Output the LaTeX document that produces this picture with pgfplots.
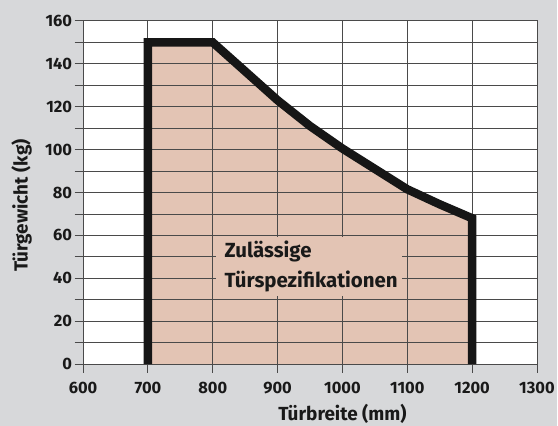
\documentclass[border=0pt]{standalone}
\usepackage{pgfplots}
\pgfplotsset{compat=1.18}
\usepackage{fontspec}
\setmainfont{Fira Sans}[Numbers={Proportional,Lining}]
\definecolor{bg}{HTML}{D7D8DA}
\definecolor{area}{HTML}{E3C4B4}
\definecolor{gridc}{HTML}{4A4A4A}
\definecolor{linec}{HTML}{161616}
\pgfplotsset{
  base/.style={
    at={(0pt,0pt)}, anchor=south west,
    scale only axis, width=455pt, height=344pt,
    xmin=600, xmax=1300, ymin=0, ymax=160,
  }
}
\begin{document}
\begin{tikzpicture}
\fill[bg] (-83.3pt,-62pt) rectangle (474.7pt,365pt);
\fill[white] (0pt,0pt) rectangle (455pt,344pt);
\begin{axis}[base, hide axis]
\addplot[fill=area, draw=none] coordinates {
(700,0) (700,150) (800,150) (850,136.5) (900,123) (950,111) (1000,100.5)
(1050,91) (1100,81.5) (1150,74.5) (1200,68) (1200,0)};
\end{axis}
\begin{axis}[
  base,
  xtick={600,700,...,1300}, ytick={0,20,...,160},
  minor ytick={10,30,...,150},
  grid=both,
  major grid style={gridc, line width=0.9pt},
  minor grid style={gridc, line width=0.9pt},
  axis line style={gridc, line width=0.9pt},
  every tick/.style={gridc, line width=0.9pt},
  tick align=outside, major tick length=8.5pt, minor tick length=8.5pt,
  xtick pos=bottom, ytick pos=left,
  /pgf/number format/1000 sep={},
  /pgf/number format/assume math mode=true,
  ticklabel style={font=\bfseries\fontsize{16.5}{18}\selectfont, text=black!90},
  xticklabel style={yshift=-6pt},
  yticklabel style={xshift=1pt},
]
\addplot[linec, line width=8.5pt, line join=miter] coordinates {
(700,0) (700,150) (800,150) (850,136.5) (900,123) (950,111) (1000,100.5)
(1050,91) (1100,81.5) (1150,74.5) (1200,68) (1200,0)};
\end{axis}
\fill[area] (133.7pt,68pt) rectangle (319.7pt,127pt);
\node[anchor=base west, inner sep=0pt, font=\bfseries\fontsize{20.5}{22}\selectfont, text=black!90] at (141.7pt,106.7pt) {Zulässige};
\node[anchor=base west, inner sep=0pt, font=\bfseries\fontsize{20.5}{22}\selectfont, text=black!90] at (141.7pt,76.7pt) {Türspezifikationen};
\node[anchor=base, inner sep=0pt, font=\bfseries\fontsize{19}{20}\selectfont, text=black!90] at (260pt,-56.5pt) {Türbreite (mm)};
\node[anchor=base, rotate=90, inner sep=0pt, font=\bfseries\fontsize{19}{20}\selectfont, text=black!90] at (-55.6pt,158.8pt) {Türgewicht (kg)};
\end{tikzpicture}
\end{document}
